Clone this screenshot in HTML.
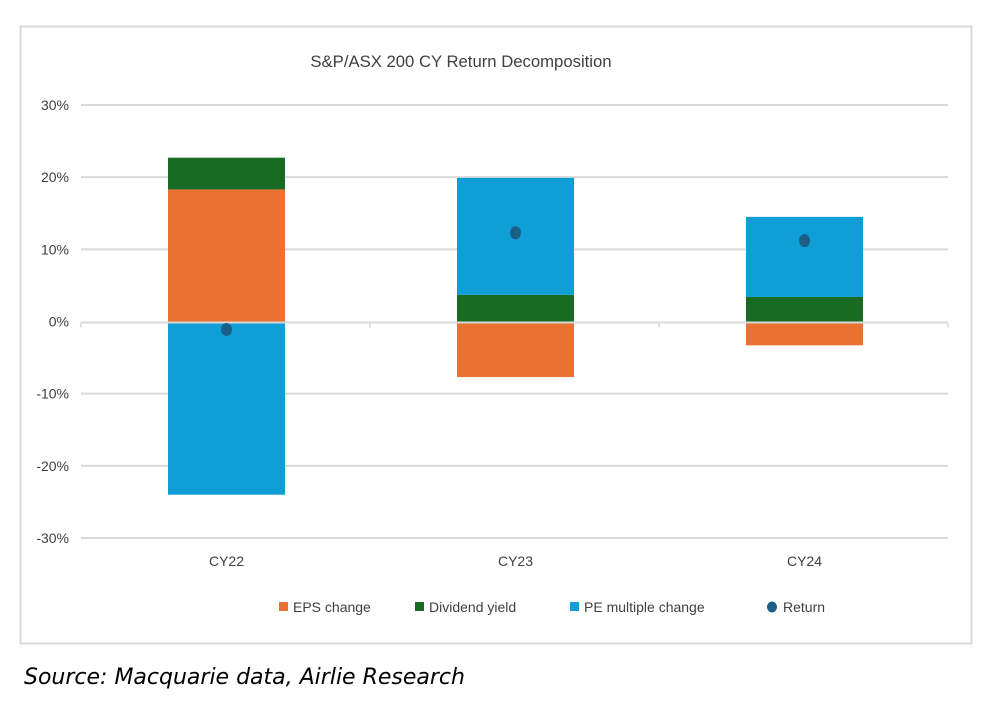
<!DOCTYPE html>
<html><head><meta charset="utf-8"><style>
html,body{margin:0;padding:0;background:#fff;width:994px;height:710px;overflow:hidden}
svg text{font-family:"Liberation Sans",sans-serif}
</style></head><body>
<svg id="chart" width="994" height="710">
<rect x="20.5" y="26.5" width="951" height="617" fill="#fff" stroke="#d9d9d9" stroke-width="2"/>
<text x="461" y="67" text-anchor="middle" font-size="16.7" fill="#404040">S&amp;P/ASX 200 CY Return Decomposition</text>
<g id="grid"></g><g id="bars"></g><g id="axis"></g><g id="dots"></g>
<g font-size="14" fill="#404040">
<rect x="279" y="602" width="9" height="9" fill="#e97132"/>
<text x="293" y="612" fill="#404040">EPS change</text>
<rect x="415" y="602" width="9" height="9" fill="#196b24"/>
<text x="429" y="612" fill="#404040">Dividend yield</text>
<rect x="570" y="602" width="9" height="9" fill="#0f9ed5"/>
<text x="584" y="612" fill="#404040">PE multiple change</text>
<ellipse cx="772" cy="607" rx="5" ry="5.5" fill="#1b5e87"/>
<text x="783" y="612" fill="#404040">Return</text>
</g>
<text x="24" y="684" font-style="italic" fill="#000" style="font-family:'DejaVu Sans',sans-serif;font-size:22px">Source: Macquarie data, Airlie Research</text>
</svg>
<script>
const categories=["CY22","CY23","CY24"];
const epsChange=[18.3,-7.7,-3.3];
const dividendYield=[4.4,3.7,3.4];
const peChange=[-24.0,16.2,11.1];
const returns=[-1.1,12.3,11.2];
const yTicks=[30,20,10,0,-10,-20,-30];
const NS="http://www.w3.org/2000/svg";
const x0=81,x1=948,yTop=105,yBot=538,vmax=30,vmin=-30;
const y=v=>yTop+(vmax-v)/(vmax-vmin)*(yBot-yTop);
const bw=(x1-x0)/categories.length;
const cx=i=>x0+bw*(i+0.5);
const barW=117;
function mk(tag,attrs,parent){const e=document.createElementNS(NS,tag);for(const k in attrs)e.setAttribute(k,attrs[k]);document.getElementById(parent).appendChild(e);return e;}
yTicks.forEach(t=>{
 if(t!==0){const l=mk('line',{x1:x0,x2:x1,y1:y(t),y2:y(t),stroke:'#d9d9d9','stroke-width':2},'grid');
 
 }
 const tx=mk('text',{x:69,y:y(t)+5,'text-anchor':'end','font-size':14,fill:'#404040'},'grid');
 tx.textContent=t+'%';
 
 
});
function seg(i,a,b,color,name){
 const top=y(Math.max(a,b)),bot=y(Math.min(a,b));
 const r=mk('rect',{x:cx(i)-barW/2+1,y:top,width:barW,height:bot-top,fill:color},'bars');
 
 
}
categories.forEach((c,i)=>{
 let pos=0,neg=0;
 [[epsChange[i],'#e97132','bar-eps'],[dividendYield[i],'#196b24','bar-dividend'],[peChange[i],'#0f9ed5','bar-pe']].forEach(([v,col,n])=>{
  if(v>=0){seg(i,pos,pos+v,col,n+'-'+c.toLowerCase());pos+=v;}
  else{seg(i,neg,neg+v,col,n+'-'+c.toLowerCase());neg+=v;}
 });
 const t=mk('text',{x:cx(i)+1,y:566,'text-anchor':'middle','font-size':14,fill:'#404040'},'axis');
 t.textContent=c;
 
 
 const d=mk('ellipse',{cx:cx(i)+1,cy:y(returns[i]),rx:5.5,ry:6.5,fill:'#1b5e87'},'dots');
 
 
});
const ax=mk('line',{x1:x0,x2:x1,y1:y(0)+1,y2:y(0)+1,stroke:'#d9d9d9','stroke-width':2},'axis');


for(let i=0;i<=categories.length;i++){
 const tk=mk('line',{x1:x0+bw*i,x2:x0+bw*i,y1:y(0)+1,y2:y(0)+6,stroke:'#d9d9d9','stroke-width':1.5},'axis');
 
 
}
</script>
</body></html>
